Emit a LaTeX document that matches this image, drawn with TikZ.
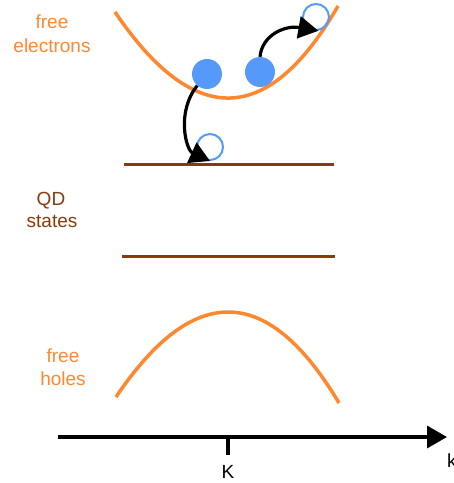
\documentclass[tikz,border=0pt]{standalone}
\usepackage{fontspec}
\setmainfont{Liberation Sans}
\usetikzlibrary{arrows.meta}
\definecolor{bandorange}{RGB}{255,135,45}
\definecolor{qdbrown}{RGB}{135,58,12}
\definecolor{carrierblue}{RGB}{85,153,250}
\tikzset{
  band/.style={draw=bandorange, line width=3.5pt},
  qdline/.style={draw=qdbrown, line width=3pt},
  electron/.style={circle, fill=carrierblue, minimum size=30pt, inner sep=0pt},
  hole/.style={circle, draw=carrierblue, line width=2pt, minimum size=26pt, inner sep=0pt},
  hop/.style={draw=black, line width=3.2pt, -{Triangle[length=20pt,width=22pt]}},
  axisline/.style={draw=black, line width=3.5pt, -{Triangle[length=20pt,width=22pt]}},
  lbl/.style={font=\fontsize{19}{23}\selectfont, anchor=base, inner sep=0pt},
}
\begin{document}
\begin{tikzpicture}[x=1pt, y=-1pt]
\useasboundingbox (0,0) rectangle (454,483);
% conduction band
\draw[band] (115,12) .. controls (194,128.7) and (268.3,126.7) .. (338,6);
% valence band
\draw[band] (116,397) .. controls (193.7,281.7) and (268,283.7) .. (339,403);
% QD states
\draw[qdline] (124,164) -- (334,164);
\draw[qdline] (122,256) -- (335,256);
% carriers
\node[electron] (e1) at (207,74) {};
\node[electron] (e2) at (260,72) {};
\node[hole] (h1) at (210,147) {};
\node[hole] (h2) at (316,17) {};
% transitions
\draw[hop] (e1.230) .. controls (176,112) and (186,150) .. (h1.south);
\draw[hop] (e2.north) .. controls (262,35) and (285,25) .. (h2.-80);
% axis
\coordinate (a0) at (58,437);
\coordinate (a1) at (447,437);
\coordinate (t0) at (228,437);
\coordinate (t1) at (228,455);
\draw[axisline] (a0) -- (a1);
\draw[line width=3.5pt] (t0) -- (t1);
% labels
\node[lbl, text=bandorange] (fe1) at (52,28) {free};
\node[lbl, text=bandorange] (fe2) at (52,52) {electrons};
\node[lbl, text=qdbrown] (qd1) at (51,205) {QD};
\node[lbl, text=qdbrown] (qd2) at (52,227) {states};
\node[lbl, text=bandorange] (fh1) at (63,362) {free};
\node[lbl, text=bandorange] (fh2) at (63,385) {holes};
\node[lbl] (kK) at (228,478) {K};
\node[lbl, anchor=base west] (kk) at (447,467) {k};
\end{tikzpicture}
\end{document}
